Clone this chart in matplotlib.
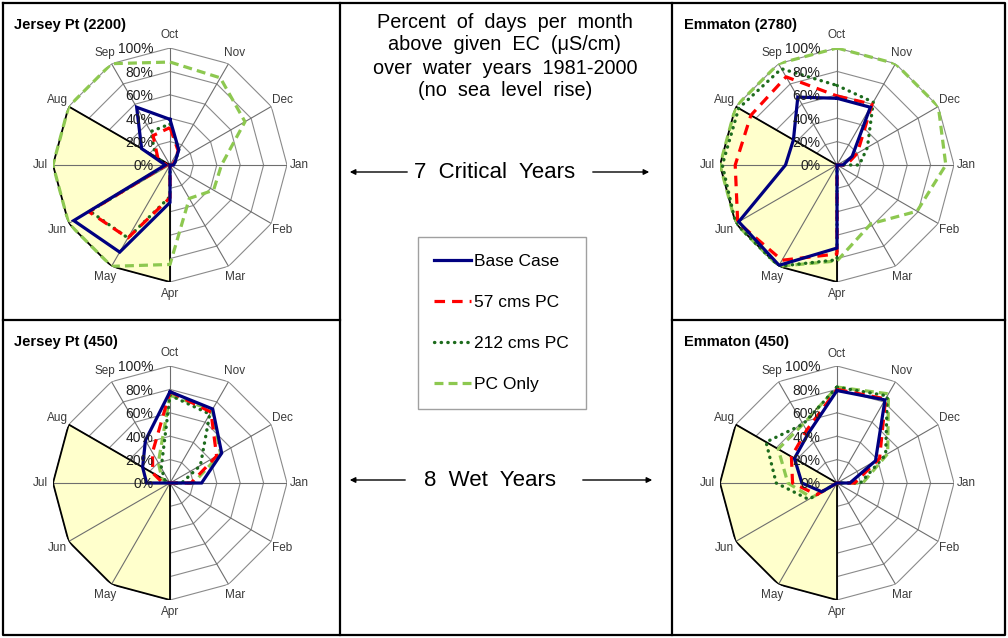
import numpy as np
import matplotlib
matplotlib.use('Agg')
import matplotlib.pyplot as plt
from matplotlib.lines import Line2D

plt.rcParams['font.family'] = ['Liberation Sans', 'DejaVu Sans']

# ---------------- data ----------------
months = ['Oct', 'Nov', 'Dec', 'Jan', 'Feb', 'Mar', 'Apr', 'May', 'Jun', 'Jul', 'Aug', 'Sep']
ring_levels = [0, 20, 40, 60, 80, 100]
ring_labels = ['0%', '20%', '40%', '60%', '80%', '100%']
season_months = ['Apr', 'May', 'Jun', 'Jul', 'Aug']
season_level = 100

series_names = ['Base Case', '57 cms PC', '212 cms PC', 'PC Only']

# Jersey Pt (2200) - 7 critical years
jp2200_base = [39, 15, 5, 3, 0, 0, 32, 86, 95, 4, 28, 57]
jp2200_57 = [32, 14, 4, 2, 0, 0, 28, 72, 80, 3, 12, 29]
jp2200_212 = [35, 15, 5, 2, 0, 0, 27, 72, 79, 3, 14, 33]
jp2200_pc = [88, 86, 74, 44, 43, 33, 85, 100, 100, 100, 100, 100]

# Emmaton (2780) - 7 critical years
em2780_base = [57, 57, 15, 5, 0, 0, 71, 99, 97, 44, 43, 67]
em2780_57 = [59, 60, 20, 8, 0, 0, 76, 94, 98, 87, 85, 87]
em2780_212 = [68, 62, 30, 19, 0, 0, 81, 100, 100, 98, 97, 95]
em2780_pc = [100, 100, 100, 93, 79, 58, 82, 100, 100, 100, 100, 100]

# Jersey Pt (450) - 8 wet years
jp450_base = [78, 73, 51, 27, 0, 0, 0, 0, 0, 20, 27, 42]
jp450_57 = [78, 70, 46, 18, 0, 0, 0, 0, 0, 6, 17, 30]
jp450_212 = [75, 68, 30, 10, 0, 0, 0, 0, 0, 2, 5, 15]
jp450_pc = [75, 72, 50, 20, 0, 0, 0, 0, 0, 3, 8, 20]

# Emmaton (450) - 8 wet years
em450_base = [79, 82, 38, 11, 0, 0, 0, 0, 15, 30, 42, 49]
em450_57 = [80, 83, 42, 15, 0, 0, 0, 0, 20, 38, 45, 52]
em450_212 = [82, 86, 48, 20, 0, 0, 0, 0, 28, 52, 70, 58]
em450_pc = [82, 88, 50, 22, 0, 0, 0, 0, 25, 42, 58, 58]

title_lines = ['Percent of days per month', 'above given EC (\u03bcS/cm)',
               'over water years 1981-2000', '(no sea level rise)']
row_labels = ['7 Critical Years', '8 Wet Years']

# ---------------- styles ----------------
styles = {
    'Base Case': dict(color='#000080', lw=2.3, ls='-', solid_joinstyle='miter'),
    '57 cms PC': dict(color='#ff0000', lw=2.3, ls=(0, (3.3, 2.2))),
    '212 cms PC': dict(color='#1d6b1d', lw=2.4, ls=(0, (0.1, 1.9)), dash_capstyle='round'),
    'PC Only': dict(color='#8dc850', lw=2.3, ls=(0, (2.8, 1.6))),
}
draw_order = ['PC Only', '212 cms PC', '57 cms PC', 'Base Case']

W, H = 1008, 638
fig = plt.figure(figsize=(W / 100, H / 100), dpi=100)

bg = fig.add_axes([0, 0, 1, 1])
bg.set_xlim(0, W)
bg.set_ylim(H, 0)
bg.axis('off')

# panel borders
border_kw = dict(color='black', lw=1.6, solid_capstyle='projecting')
bg.plot([3, 1005, 1005, 3, 3], [3, 3, 635, 635, 3], **border_kw)
bg.plot([340, 340], [3, 635], **border_kw)
bg.plot([672, 672], [3, 635], **border_kw)
bg.plot([3, 340], [320, 320], **border_kw)
bg.plot([672, 1005], [320, 320], **border_kw)

panels = [
    ('Jersey Pt (2200)', [jp2200_base, jp2200_57, jp2200_212, jp2200_pc], (170, 165), (14, 25)),
    ('Emmaton (2780)', [em2780_base, em2780_57, em2780_212, em2780_pc], (837, 165), (684, 25)),
    ('Jersey Pt (450)', [jp450_base, jp450_57, jp450_212, jp450_pc], (170, 483), (14, 342)),
    ('Emmaton (450)', [em450_base, em450_57, em450_212, em450_pc], (837, 483), (684, 342)),
]

R = 117
theta = np.arange(len(months)) * 2 * np.pi / len(months)
theta_c = np.append(theta, theta[0])

for title, data, (cx, cy), (tx, ty) in panels:
    rect = [(cx - R) / W, 1 - (cy + R) / H, 2 * R / W, 2 * R / H]
    ax = fig.add_axes(rect, projection='polar')
    ax.set_theta_zero_location('N')
    ax.set_theta_direction(-1)
    ax.set_ylim(0, 100)
    ax.grid(False)
    ax.spines['polar'].set_visible(False)
    ax.patch.set_alpha(0)
    ax.set_yticks([])
    ax.set_xticks(theta)
    ax.set_xticklabels(months, fontsize=8.5, color='#3a3a3a')
    ax.tick_params(axis='x', pad=2.0, length=0)

    # polygon rings
    for lvl in ring_levels[1:]:
        ax.plot(theta_c, [lvl] * len(theta_c), color='#8a8a8a', lw=0.8, zorder=1)
    # season shading
    idx = [months.index(m) for m in season_months]
    th = [theta[i] for i in idx]
    ax.fill([th[0]] + th + [th[-1]], [0] + [season_level] * len(th) + [0],
            facecolor='#ffffcc', edgecolor='none', zorder=1.5)
    # spokes
    for t in theta:
        ax.plot([t, t], [0, 100], color='#6e6e6e', lw=0.8, zorder=2)
    ax.plot([th[0]] + th + [th[-1]], [0] + [season_level] * len(th) + [0],
            color='black', lw=1.3, zorder=2.5)

    # series
    for z, name in enumerate(draw_order):
        vals = data[series_names.index(name)]
        ax.plot(theta_c, list(vals) + [vals[0]], zorder=4 + z, **styles[name])

    # radial labels
    for lvl, lab in zip(ring_levels, ring_labels):
        ax.annotate(lab, xy=(0, lvl), xytext=(-12, -1), textcoords='offset points',
                    ha='right', va='center', fontsize=10, color='#202020',
                    zorder=10, annotation_clip=False)

    bg.text(tx, ty, title, fontsize=10.5, fontweight='bold', ha='left', va='center')

# middle panel text
for i, line in enumerate(title_lines):
    bg.text(505, 22 + i * 23, line.replace(' ', '  '), fontsize=14.3, ha='center', va='center')

arrow_kw = dict(arrowstyle='-|>', color='black', lw=1.0, mutation_scale=8)
bg.text(495, 172, row_labels[0].replace(' ', '  '), fontsize=16, ha='center', va='center')
bg.annotate('', xy=(347, 172), xytext=(410, 172), arrowprops=arrow_kw)
bg.annotate('', xy=(652, 172), xytext=(590, 172), arrowprops=arrow_kw)
bg.text(490, 480, row_labels[1].replace(' ', '  '), fontsize=16, ha='center', va='center')
bg.annotate('', xy=(347, 480), xytext=(408, 480), arrowprops=arrow_kw)
bg.annotate('', xy=(655, 480), xytext=(580, 480), arrowprops=arrow_kw)

# legend
handles = [Line2D([], [], **styles[n]) for n in series_names]
leg = fig.legend(handles, series_names, loc='upper left',
                 bbox_to_anchor=(418 / W, 1 - 237 / H), borderaxespad=0,
                 fontsize=12.5, frameon=True, fancybox=False, edgecolor='#888888',
                 labelspacing=1.5, handlelength=2.1, handletextpad=0.2,
                 borderpad=0.95)
leg.get_frame().set_linewidth(1.0)

fig.savefig('out.png', dpi=100)
